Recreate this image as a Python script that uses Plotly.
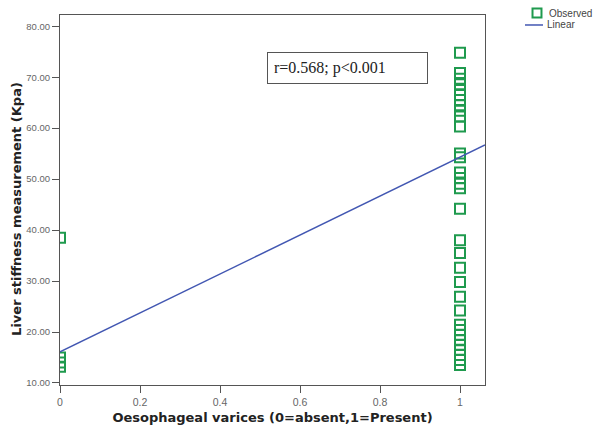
import numpy as np
import plotly.graph_objects as go

# Observed data (Oesophageal varices: 0=absent, 1=present)
x_absent = [0, 0, 0, 0]
lsm_absent = [38.5, 15.0, 14.0, 13.2]

lsm_present = [74.8, 70.8, 69.7, 68.6, 67.5, 66.5, 65.5, 64.5, 63.4, 62.3, 60.3,
               55.0, 54.3, 51.3, 50.2, 49.1, 48.2, 44.2,
               38.0, 35.5, 32.6, 29.8, 26.9, 24.2,
               21.4, 20.4, 19.4, 18.4, 17.5, 16.5, 15.5, 14.5, 13.5]
x_present = [1] * len(lsm_present)

# Linear fit coefficients
intercept = 16.1
slope = 38.2

x_range = [0, 1.0625]
y_range = [9.6, 82.2]

x_ticks = [0, 0.2, 0.4, 0.6, 0.8, 1]
x_ticktext = ["0", "0.2", "0.4", "0.6", "0.8", "1"]
y_ticks = [10, 20, 30, 40, 50, 60, 70, 80]

legend_labels = ["Observed", "Linear"]

green = "#1f9a4e"
blue = "#4257b2"

fig = go.Figure()
fig.add_trace(go.Scatter(
    x=x_absent + x_present, y=lsm_absent + lsm_present,
    mode="markers", name=legend_labels[0], showlegend=False,
    marker=dict(symbol="square-open", size=10, color=green, line=dict(width=2, color=green)),
    cliponaxis=True,
))
fit_x = np.array(x_range)
fig.add_trace(go.Scatter(
    x=fit_x, y=intercept + slope * fit_x, mode="lines", name=legend_labels[1], showlegend=False,
    line=dict(color=blue, width=1.5),
))

axis_common = dict(
    showgrid=False, zeroline=False, showline=True, linecolor="#555555", linewidth=1,
    mirror=True, ticks="outside", ticklen=7, tickcolor="#555555", automargin=False,
)

title_font = dict(family="DejaVu Sans, Verdana", size=13, color="#222222")

# manual legend (paper coordinates, outside the plot area)
shapes = [
    dict(type="rect", xref="paper", yref="paper", x0=1.1118, x1=1.1329, y0=0.9932, y1=1.0176,
         line=dict(color=green, width=2), fillcolor="rgba(0,0,0,0)"),
    dict(type="line", xref="paper", yref="paper", x0=1.0941, x1=1.1365, y0=0.973, y1=0.973,
         line=dict(color=blue, width=1.5)),
]
legend_font = dict(family="Liberation Sans, Arial", size=10, color="#444444")
annotations = [
    dict(xref="paper", yref="paper", x=1.146, y=1.005, xanchor="left", yanchor="middle",
         text=legend_labels[0], showarrow=False, font=legend_font),
    dict(xref="paper", yref="paper", x=1.141, y=0.973, xanchor="left", yanchor="middle",
         text=legend_labels[1], showarrow=False, font=legend_font),
    dict(xref="paper", yref="paper", x=0.676, y=0.857, xanchor="center", yanchor="middle",
         text="r=0.568; p&lt;0.001", showarrow=False, align="left",
         font=dict(family="Liberation Serif, Times New Roman", size=16, color="#222222"),
         bordercolor="#555555", borderwidth=1, borderpad=6, bgcolor="white",
         width=147, height=18),
    dict(xref="paper", yref="paper", x=-43 / 425, y=0.476, xanchor="center", yanchor="middle",
         text="<b>Liver stiffness measurement (Kpa)</b>", textangle=-90, showarrow=False,
         font=title_font),
]

fig.update_layout(
    width=597, height=429,
    margin=dict(l=60, r=112, t=15, b=44, autoexpand=False),
    paper_bgcolor="white", plot_bgcolor="white",
    font=dict(family="Liberation Sans, Arial"),
    showlegend=False,
    xaxis=dict(range=x_range, tickvals=x_ticks, ticktext=x_ticktext,
               tickfont=dict(family="Liberation Sans, Arial", size=10.5, color="#666666"),
               title=dict(text="<b>Oesophageal varices (0=absent,1=Present)</b>",
                          font=title_font, standoff=6),
               **axis_common),
    yaxis=dict(range=y_range, tickvals=y_ticks, tickformat=".2f",
               tickfont=dict(family="Liberation Sans, Arial", size=9.5, color="#666666"),
               **axis_common),
    shapes=shapes,
    annotations=annotations,
)

fig.write_html("out.html", config={"displayModeBar": False},
               post_script="document.body.style.margin='0';")
